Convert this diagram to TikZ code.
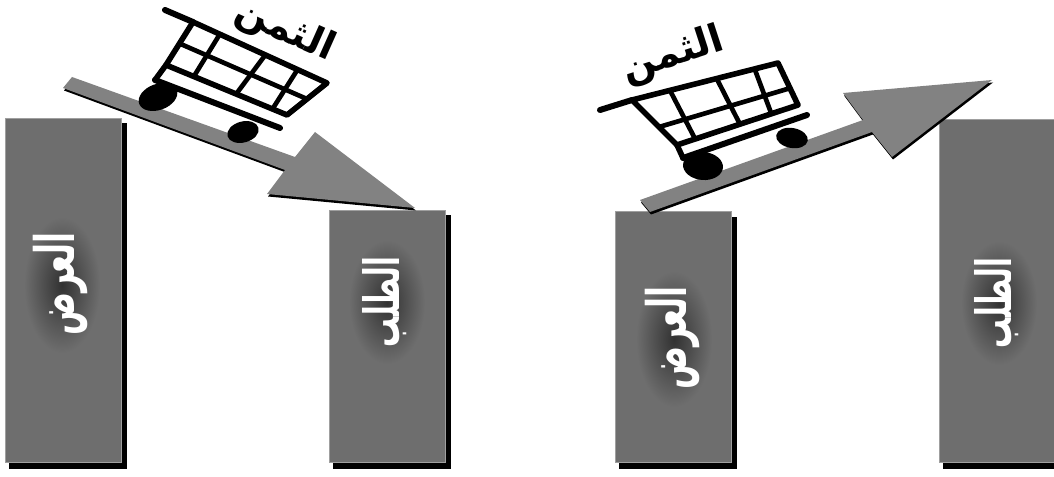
\documentclass[tikz,border=0pt]{standalone}
\usepackage{fontspec}
\usepackage{graphicx}
\usepackage{tikz}
\usetikzlibrary{calc,shadows}
\TeXXeTstate=1
\newfontfamily\arabicfont[Script=Arabic]{DejaVu Sans}
\definecolor{bargray}{HTML}{6E6E6E}
\definecolor{arrowgray}{HTML}{828282}
\newcommand{\artxt}[1]{\arabicfont\bfseries\beginR #1\endR}
\newcommand{\tallar}[1]{\scalebox{1}[1.7]{\artxt{#1}}}

\begin{document}
\begin{tikzpicture}[x=0.75pt,y=-0.75pt,
  bar/.style={draw=gray!75,line width=1pt,fill=bargray,minimum width=87pt,anchor=south west,inner sep=0pt,
    copy shadow={fill=black,draw=black,shadow xshift=3.2pt,shadow yshift=-4.2pt}},
  barlabel/.style={text=white,rotate=90,inner sep=0pt},
  pricelabel/.style={text=black,font=\fontsize{29}{29}\selectfont,inner sep=0pt},
  glow/.style={inner color=bargray!45!black,outer color=bargray,draw=none},
  ramp/.style={fill=arrowgray,draw=none},
  rampedge/.style={fill=black,draw=none,shift={(1,2.5)}},
  wire/.style={draw=black,line width=3.5pt,line cap=round,line join=round},
  frame/.style={wire,line width=4.2pt},
  rail/.style={draw=black,line width=4.5pt,line cap=round},
  wheel/.style={fill=black,draw=none}]
\useasboundingbox (0,0) rectangle (1054,477);

% bars
\node[bar,minimum height=258pt] (supplyA) at (5,463) {};
\node[bar,minimum height=189pt] (demandA) at (329,463) {};
\node[bar,minimum height=188pt] (supplyB) at (615,463) {};
\node[bar,minimum height=257pt] (demandB) at (939,463) {};

% falling price
\def\fallramp{(72,77)--(295,157)--(315,132)--(415,208)--(267,194)--(285,170)--(63,88)--cycle}
\fill[rampedge] \fallramp;
\fill[ramp] \fallramp;
\coordinate (tl) at (193,22);
\coordinate (tr) at (327,83);
\coordinate (bl) at (166,65);
\coordinate (br) at (287,115);
\draw[rail] (165,10)--(tl);
\draw[frame] (tl)--(tr)--(br)--(bl)--cycle;
\foreach \t/\b in {0.2/0.23,0.54/0.58,0.78/0.88}
  \draw[wire] ($(tl)!\t!(tr)$)--($(bl)!\b!(br)$);
\draw[wire] ($(tl)!0.5!(bl)$)--($(tr)!0.5!(br)$);
\draw[frame] (bl)--(155,80);
\draw[rail] (155,80)--(280,128);
\fill[wheel,rotate around={20:(158,97)}] (158,97) ellipse (20 and 13);
\fill[wheel,rotate around={15:(243,132)}] (243,132) ellipse (16 and 10.5);
\node[pricelabel,rotate=-24] (priceA) at (285,31) {\artxt{الثمن}};

% rising price
\def\riseramp{(640,200)--(863,120)--(843,93)--(992,80)--(892,157)--(872,132)--(650,212)--cycle}
\fill[rampedge] \riseramp;
\fill[ramp] \riseramp;
\coordinate (tl) at (632,100);
\coordinate (tr) at (778,63);
\coordinate (bl) at (677,145);
\coordinate (br) at (798,105);
\draw[rail] (600,110)--(tl);
\draw[frame] (tl)--(tr)--(br)--(bl)--cycle;
\foreach \t/\b in {0.26/0.15,0.58/0.52,0.84/0.78}
  \draw[wire] ($(tl)!\t!(tr)$)--($(bl)!\b!(br)$);
\draw[wire] ($(tl)!0.6!(bl)$)--($(tr)!0.6!(br)$);
\draw[frame] (bl)--(683,158);
\draw[rail] (683,158)--(807,115);
\fill[wheel,rotate around={-5:(703,166)}] (703,166) ellipse (20 and 14);
\fill[wheel,rotate around={-10:(792,138)}] (792,138) ellipse (16 and 10);
\node[pricelabel,rotate=18] (priceB) at (673,56) {\artxt{الثمن}};

% bar labels
\shade[glow] (62,285) ellipse (38 and 68);
\node[barlabel,font=\fontsize{24}{24}\selectfont] (supplyTextA) at (60,284) {\tallar{العرض}};
\shade[glow] (387,302) ellipse (38 and 62);
\node[barlabel,font=\fontsize{21.5}{21.5}\selectfont] (demandTextA) at (385,302) {\tallar{الطلب}};
\shade[glow] (674,339) ellipse (38 and 68);
\node[barlabel,font=\fontsize{24}{24}\selectfont] (supplyTextB) at (672,338) {\tallar{العرض}};
\shade[glow] (999,303) ellipse (38 and 62);
\node[barlabel,font=\fontsize{21.5}{21.5}\selectfont] (demandTextB) at (997,303) {\tallar{الطلب}};
\end{tikzpicture}
\end{document}
